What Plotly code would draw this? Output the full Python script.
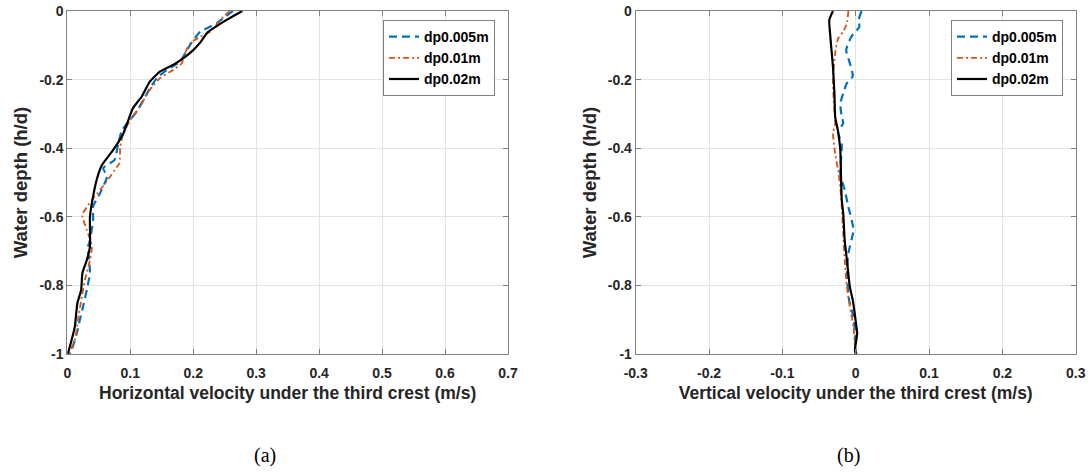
import plotly.graph_objects as go

# ---------------- data ----------------
series_names = ["dp0.005m", "dp0.01m", "dp0.02m"]

# (a) horizontal velocity
u_005_y = [0, -0.036, -0.061, -0.085, -0.114, -0.148, -0.172, -0.196, -0.226, -0.259, -0.294, -0.347,
           -0.386, -0.434, -0.458, -0.483, -0.531, -0.57, -0.61, -0.668, -0.687, -0.764, -0.813, -0.862,
           -0.9, -0.94, -0.988, -1]
u_005_x = [0.263, 0.237, 0.211, 0.2, 0.19, 0.179, 0.158, 0.142, 0.131, 0.121, 0.11, 0.087,
           0.081, 0.075, 0.057, 0.063, 0.052, 0.041, 0.041, 0.036, 0.033, 0.036, 0.031, 0.025,
           0.02, 0.015, 0.007, 0.003]

u_01_y = [0, -0.017, -0.061, -0.075, -0.094, -0.123, -0.152, -0.172, -0.196, -0.23, -0.28, -0.318,
          -0.357, -0.396, -0.443, -0.464, -0.483, -0.522, -0.551, -0.589, -0.6, -0.638, -0.687, -0.726,
          -0.784, -0.833, -0.9, -0.96, -0.993, -1]
u_01_x = [0.258, 0.248, 0.226, 0.211, 0.195, 0.187, 0.182, 0.168, 0.147, 0.131, 0.115, 0.1,
          0.089, 0.084, 0.083, 0.075, 0.068, 0.052, 0.039, 0.025, 0.024, 0.031, 0.039, 0.036,
          0.028, 0.023, 0.017, 0.012, 0.004, 0.001]

u_02_y = [0, -0.026, -0.064, -0.09, -0.114, -0.138, -0.157, -0.177, -0.206, -0.25, -0.284, -0.318,
          -0.357, -0.405, -0.449, -0.49, -0.561, -0.6, -0.687, -0.726, -0.764, -0.813, -0.852, -0.92,
          -0.94, -0.993, -1]
u_02_x = [0.278, 0.253, 0.222, 0.212, 0.2, 0.184, 0.168, 0.147, 0.131, 0.118, 0.104, 0.097,
          0.089, 0.073, 0.055, 0.047, 0.039, 0.036, 0.036, 0.031, 0.024, 0.022, 0.016, 0.012,
          0.0095, 0.0016, 0]

# (b) vertical velocity
w_005_y = [0, -0.026, -0.046, -0.075, -0.114, -0.152, -0.19, -0.21, -0.24, -0.27, -0.309, -0.327,
           -0.352, -0.39, -0.474, -0.522, -0.571, -0.638, -0.706, -0.764, -0.843, -0.892, -0.94, -0.99, -1]
w_005_x = [0.008, 0.004, 0.005, -0.006, -0.013, -0.008, -0.004, -0.012, -0.017, -0.021, -0.019, -0.017,
           -0.024, -0.019, -0.021, -0.015, -0.01, -0.003, -0.01, -0.012, -0.009, -0.003, -0.001, 0, 0.001]

w_01_y = [0, -0.036, -0.06, -0.08, -0.123, -0.2, -0.26, -0.327, -0.357, -0.415, -0.464, -0.513,
          -0.571, -0.648, -0.726, -0.804, -0.862, -0.92, -0.98, -1]
w_01_x = [-0.01, -0.012, -0.017, -0.024, -0.028, -0.031, -0.03, -0.028, -0.031, -0.028, -0.024, -0.021,
          -0.019, -0.017, -0.015, -0.012, -0.008, -0.003, -0.001, 0]

w_02_y = [0, -0.026, -0.064, -0.114, -0.163, -0.24, -0.309, -0.352, -0.405, -0.483, -0.551, -0.59,
          -0.668, -0.726, -0.804, -0.843, -0.921, -0.94, -0.988, -1]
w_02_x = [-0.031, -0.036, -0.035, -0.033, -0.031, -0.029, -0.028, -0.024, -0.021, -0.02, -0.019, -0.017,
          -0.015, -0.012, -0.008, -0.004, 0.001, 0.002, -0.001, 0]

y_ticks = [0, -0.2, -0.4, -0.6, -0.8, -1]
y_ticktext = ["0", "-0.2", "-0.4", "-0.6", "-0.8", "-1"]
xa_ticks = [0, 0.1, 0.2, 0.3, 0.4, 0.5, 0.6, 0.7]
xa_ticktext = ["0", "0.1", "0.2", "0.3", "0.4", "0.5", "0.6", "0.7"]
xb_ticks = [-0.3, -0.2, -0.1, 0, 0.1, 0.2, 0.3]
xb_ticktext = ["-0.3", "-0.2", "-0.1", "0", "0.1", "0.2", "0.3"]

x_title_a = "Horizontal velocity under the third crest (m/s)"
x_title_b = "Vertical velocity under the third crest (m/s)"
y_title = "Water depth (h/d)"
panel_labels = ["(a)", "(b)"]

# ---------------- styles ----------------
BLUE = "#0072BD"
ORANGE = "#D95319"
BLACK = "#000000"
styles = [
    dict(color=BLUE, width=2.2, dash="8px,5px"),
    dict(color=ORANGE, width=1.8, dash="6px,3px,2px,3px"),
    dict(color=BLACK, width=2.2, dash="solid"),
]

fig = go.Figure()
left_data = [(u_005_x, u_005_y), (u_01_x, u_01_y), (u_02_x, u_02_y)]
right_data = [(w_005_x, w_005_y), (w_01_x, w_01_y), (w_02_x, w_02_y)]

for (xs, ys), name, st in zip(left_data, series_names, styles):
    fig.add_trace(go.Scatter(x=xs, y=ys, mode="lines", name=f"<b>{name}</b>", line=st,
                             xaxis="x", yaxis="y", legend="legend", line_shape="spline",
                             line_smoothing=0.5))
for (xs, ys), name, st in zip(right_data, series_names, styles):
    fig.add_trace(go.Scatter(x=xs, y=ys, mode="lines", name=f"<b>{name}</b>", line=st,
                             xaxis="x2", yaxis="y2", legend="legend2", line_shape="spline",
                             line_smoothing=0.5))

W, H = 1091, 472
FONT = "Liberation Sans, Arial, sans-serif"
TXT = "#262626"
AXC = "#808080"
GRID = "#e3e3e3"


def px_x(p):
    return p / W


def px_y(p):
    return (H - p) / H


axis_common = dict(showgrid=True, gridcolor=GRID, gridwidth=1, zeroline=False,
                   showline=True, linecolor=AXC, linewidth=1, mirror="ticks",
                   ticks="inside", ticklen=5, tickcolor=AXC, tickwidth=1,
                   automargin=False,
                   tickfont=dict(family=FONT, size=14, color=TXT))

x_title_font = dict(family=FONT, size=17.5, color=TXT)
y_title_font = dict(family=FONT, size=18.5, color=TXT)
legend_style = dict(xanchor="right", yanchor="top", bgcolor="white", bordercolor=AXC,
                    borderwidth=1, font=dict(family=FONT, size=14, color=BLACK),
                    tracegroupgap=0, itemwidth=30)

fig.update_layout(
    width=W, height=H, margin=dict(l=0, r=0, t=0, b=0, autoexpand=False),
    paper_bgcolor="white", plot_bgcolor="white",
    font=dict(family=FONT, color=TXT),
    xaxis=dict(domain=[px_x(67.3), px_x(508)], range=[0, 0.7], tickvals=xa_ticks,
               ticktext=[f"<b>{t}</b>" for t in xa_ticktext], ticklabelstandoff=6,
               title=dict(text=f"<b>{x_title_a}</b>", standoff=6, font=x_title_font),
               anchor="y", **axis_common),
    yaxis=dict(domain=[px_y(354), px_y(11)], range=[-1, 0], tickvals=y_ticks,
               ticktext=[f"<b>{t}</b>" for t in y_ticktext],
               title=dict(text=f"<b>{y_title}</b>", standoff=6, font=y_title_font),
               anchor="x", **axis_common),
    xaxis2=dict(domain=[px_x(635.7), px_x(1075.7)], range=[-0.3, 0.3], tickvals=xb_ticks,
                ticktext=[f"<b>{t}</b>" for t in xb_ticktext], ticklabelstandoff=6,
                title=dict(text=f"<b>{x_title_b}</b>", standoff=6, font=x_title_font),
                anchor="y2", **axis_common),
    yaxis2=dict(domain=[px_y(354), px_y(11)], range=[-1, 0], tickvals=y_ticks,
                ticktext=[f"<b>{t}</b>" for t in y_ticktext],
                title=dict(text=f"<b>{y_title}</b>", standoff=6, font=y_title_font),
                anchor="x2", **axis_common),
    legend=dict(x=px_x(495), y=px_y(20), **legend_style),
    legend2=dict(x=px_x(1063), y=px_y(20), **legend_style),
    showlegend=True,
)

for lbl, cx in zip(panel_labels, [265, 848]):
    fig.add_annotation(text=lbl, x=px_x(cx), y=px_y(455), xref="paper", yref="paper",
                       showarrow=False, xanchor="center", yanchor="middle",
                       font=dict(family="Liberation Serif, Times New Roman, serif", size=20, color=BLACK))

fig.write_html("out.html")
